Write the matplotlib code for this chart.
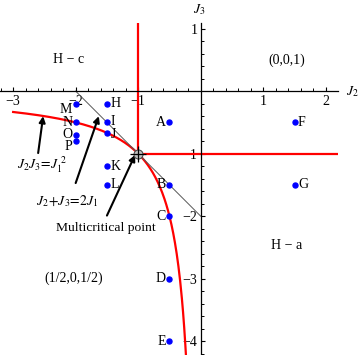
import numpy as np
import matplotlib
matplotlib.use('Agg')
import matplotlib.pyplot as plt
from matplotlib.ticker import MultipleLocator, FuncFormatter

plt.rcParams['font.family'] = ['Liberation Serif', 'DejaVu Serif']
plt.rcParams['mathtext.fontset'] = 'stix'

# ---- data ----
J1 = -1.0
point_names = ['A', 'B', 'C', 'D', 'E', 'F', 'G', 'H', 'I', 'J', 'K', 'L', 'M', 'N', 'O', 'P']
point_j2 = [-0.5, -0.5, -0.5, -0.5, -0.5, 1.5, 1.5, -1.5, -1.5, -1.5, -1.5, -1.5, -2.0, -2.0, -2.0, -2.0]
point_j3 = [-0.5, -1.5, -2.0, -3.0, -4.0, -0.5, -1.5, -0.2, -0.5, -0.667, -1.2, -1.5, -0.2, -0.5, -0.7, -0.8]
label_side = ['L', 'L', 'L', 'L', 'L', 'R', 'R', 'R', 'R', 'R', 'R', 'R', 'L', 'L', 'L', 'L']
label_dy = [0, 0, 0, 0, 0, 0, 0, 0, 0.5, -1, 0, 0, -4, 0, 0, -4]

hyper_j2 = np.linspace(-3.0, -0.237, 300)
hyper_j3 = J1**2 / hyper_j2
line_j2 = [2 * J1, 0.0]
line_j3 = [0.0, 2 * J1]

xticks = [-3, -2, -1, 1, 2]
yticks = [1, -1, -2, -3, -4]

# ---- figure ----
f = plt.figure(figsize=(3.6, 3.55), dpi=100)
ax = f.add_axes([0, 0, 337.7 / 360, 332 / 355])
ax.set_xlim(-3.21, 2.19)
ax.set_ylim(-4.22, 1.09)

for s in ['top', 'right']:
    ax.spines[s].set_visible(False)
ax.spines['left'].set_position(('data', 0))
ax.spines['bottom'].set_position(('data', 0))
ax.spines['left'].set_linewidth(0.9)
ax.spines['bottom'].set_linewidth(0.9)

ax.set_xticks(xticks)
ax.set_yticks(yticks)
ax.xaxis.set_minor_locator(MultipleLocator(0.2))
ax.yaxis.set_minor_locator(MultipleLocator(0.2))
fmt = FuncFormatter(lambda v, p: ('\u2212' + '%d' % abs(v)) if v < 0 else '%d' % v)
ax.xaxis.set_major_formatter(fmt)
ax.yaxis.set_major_formatter(fmt)
ax.tick_params(which='major', direction='in', length=3.2, width=0.8, labelsize=10, pad=2.5)
ax.tick_params(which='minor', direction='in', length=2.2, width=0.7)

# phase boundaries
ax.plot([J1, J1], [J1, 1.09], color='red', lw=1.6, solid_capstyle='butt')
ax.plot([J1, 2.19], [J1, J1], color='red', lw=1.6, solid_capstyle='butt')
ax.plot(hyper_j2, hyper_j3, color='red', lw=1.6)
ax.plot(line_j2, line_j3, color='0.35', lw=0.7)

# multicritical point
ax.plot([J1], [J1], 'o', ms=6.5, mfc='0.75', mec='0.3', mew=0.8, zorder=5)
ax.plot([J1], [J1], '+', ms=12, color='black', mew=0.9, zorder=6)

# points
ax.plot(point_j2, point_j3, 'o', color='blue', ms=3.6, ls='none', zorder=4)
for nm, x, y, sd, dy in zip(point_names, point_j2, point_j3, label_side, label_dy):
    if sd == 'L':
        ax.annotate(nm, (x, y), xytext=(-2.5, dy), textcoords='offset points',
                    ha='right', va='center', fontsize=10)
    else:
        ax.annotate(nm, (x, y), xytext=(2.5, dy), textcoords='offset points',
                    ha='left', va='center', fontsize=10)

# region labels
ax.text(-2.12, 0.5, 'H \u2212 c', ha='center', va='center', fontsize=10)
ax.text(1.38, 0.5, '(0,0,1)', ha='center', va='center', fontsize=10)
ax.text(1.38, -2.47, 'H \u2212 a', ha='center', va='center', fontsize=10)
ax.text(-2.03, -3.0, '(1/2,0,1/2)', ha='center', va='center', fontsize=10)

# axis labels
ax.text(2.42, 0.0, '$J_2$', ha='center', va='center', fontsize=10, clip_on=False)
ax.text(-0.03, 1.31, '$J_3$', ha='center', va='center', fontsize=10, clip_on=False)

# annotations with arrows
ap = dict(arrowstyle='-|>', color='black', lw=1.5, mutation_scale=9, shrinkA=0, shrinkB=0)
ax.annotate('', xy=(-2.52, -0.40), xytext=(-2.60, -0.99), arrowprops=ap)
ax.text(-2.54, -1.18, '$J_2J_3\\!=\\!J_1^{\\ 2}$', ha='center', va='center', fontsize=10)
ax.annotate('', xy=(-1.63, -0.40), xytext=(-2.0, -1.47), arrowprops=ap)
ax.text(-2.14, -1.76, '$J_2\\!+\\!J_3\\!=\\!2J_1$', ha='center', va='center', fontsize=10)
ax.annotate('', xy=(-1.05, -1.02), xytext=(-1.50, -1.99), arrowprops=ap)
ax.text(-1.52, -2.19, 'Multicritical point', ha='center', va='center', fontsize=9.7)

f.savefig('out.png', dpi=100)
